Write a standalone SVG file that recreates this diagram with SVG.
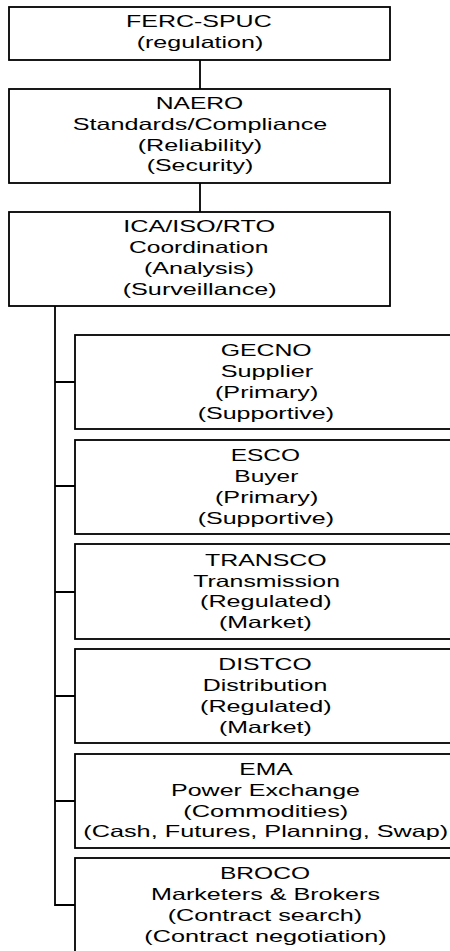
<svg xmlns="http://www.w3.org/2000/svg" width="450" height="951" viewBox="0 0 450 951">
<style>
.box{fill:#fff;stroke:#000;stroke-width:1.8}
.ln{fill:none;stroke:#000;stroke-width:1.8}
text{font-family:"Liberation Sans",Arial,sans-serif;font-size:16.5px;fill:#000}
</style>
<rect width="450" height="951" fill="#fff"/>
<g id="connectors">
<path class="ln" d="M200,60V89M200,183V212M55,306V905H75M55,382H75M55,486H75M55,592H75M55,696H75M55,801H75"/>
</g>
<g id="ferc">
<rect class="box" x="9" y="7" width="381" height="53"/>
<text x="126" y="27.3" textLength="145.7" lengthAdjust="spacingAndGlyphs">FERC-SPUC</text>
<text x="136.7" y="47.7" textLength="126.6" lengthAdjust="spacingAndGlyphs">(regulation)</text>
</g>
<g id="naero">
<rect class="box" x="9" y="89" width="381" height="94"/>
<text x="155.7" y="109.3" textLength="87.6" lengthAdjust="spacingAndGlyphs">NAERO</text>
<text x="72.7" y="130" textLength="254.6" lengthAdjust="spacingAndGlyphs">Standards/Compliance</text>
<text x="137.7" y="150.7" textLength="124.6" lengthAdjust="spacingAndGlyphs">(Reliability)</text>
<text x="146.7" y="171.3" textLength="106.6" lengthAdjust="spacingAndGlyphs">(Security)</text>
</g>
<g id="ica">
<rect class="box" x="9" y="212" width="381" height="94"/>
<text x="123.3" y="232.3" textLength="151.7" lengthAdjust="spacingAndGlyphs">ICA/ISO/RTO</text>
<text x="129" y="253.3" textLength="139.3" lengthAdjust="spacingAndGlyphs">Coordination</text>
<text x="144" y="274" textLength="110" lengthAdjust="spacingAndGlyphs">(Analysis)</text>
<text x="122.7" y="295" textLength="154" lengthAdjust="spacingAndGlyphs">(Surveillance)</text>
</g>
<g id="gecno">
<rect class="box" x="75" y="335" width="382" height="94"/>
<text x="220.7" y="356" textLength="91" lengthAdjust="spacingAndGlyphs">GECNO</text>
<text x="220.7" y="377.3" textLength="92.6" lengthAdjust="spacingAndGlyphs">Supplier</text>
<text x="215" y="398.3" textLength="103.3" lengthAdjust="spacingAndGlyphs">(Primary)</text>
<text x="197.7" y="419.3" textLength="136.3" lengthAdjust="spacingAndGlyphs">(Supportive)</text>
</g>
<g id="esco">
<rect class="box" x="75" y="440" width="382" height="94"/>
<text x="230.7" y="461" textLength="69.3" lengthAdjust="spacingAndGlyphs">ESCO</text>
<text x="234.3" y="482" textLength="64" lengthAdjust="spacingAndGlyphs">Buyer</text>
<text x="215" y="503.3" textLength="103.3" lengthAdjust="spacingAndGlyphs">(Primary)</text>
<text x="197.7" y="524" textLength="136.3" lengthAdjust="spacingAndGlyphs">(Supportive)</text>
</g>
<g id="transco">
<rect class="box" x="75" y="544" width="382" height="95"/>
<text x="205" y="566" textLength="121.7" lengthAdjust="spacingAndGlyphs">TRANSCO</text>
<text x="193.3" y="586.7" textLength="146.7" lengthAdjust="spacingAndGlyphs">Transmission</text>
<text x="200" y="607.3" textLength="131.7" lengthAdjust="spacingAndGlyphs">(Regulated)</text>
<text x="219" y="628.3" textLength="92.7" lengthAdjust="spacingAndGlyphs">(Market)</text>
</g>
<g id="distco">
<rect class="box" x="75" y="649" width="382" height="94"/>
<text x="218.3" y="670" textLength="93.4" lengthAdjust="spacingAndGlyphs">DISTCO</text>
<text x="202.7" y="691.3" textLength="124.6" lengthAdjust="spacingAndGlyphs">Distribution</text>
<text x="200" y="712" textLength="131.7" lengthAdjust="spacingAndGlyphs">(Regulated)</text>
<text x="219" y="732.7" textLength="92.7" lengthAdjust="spacingAndGlyphs">(Market)</text>
</g>
<g id="ema">
<rect class="box" x="75" y="754" width="382" height="94"/>
<text x="239.3" y="775" textLength="53.4" lengthAdjust="spacingAndGlyphs">EMA</text>
<text x="171" y="795.7" textLength="189" lengthAdjust="spacingAndGlyphs">Power Exchange</text>
<text x="183.3" y="816.7" textLength="165" lengthAdjust="spacingAndGlyphs">(Commodities)</text>
<text x="83.3" y="837.3" textLength="365" lengthAdjust="spacingAndGlyphs">(Cash, Futures, Planning, Swap)</text>
</g>
<g id="broco">
<rect class="box" x="75" y="858" width="382" height="110"/>
<text x="220" y="879.3" textLength="90" lengthAdjust="spacingAndGlyphs">BROCO</text>
<text x="151" y="900" textLength="229" lengthAdjust="spacingAndGlyphs">Marketers &amp; Brokers</text>
<text x="167.7" y="921" textLength="194.6" lengthAdjust="spacingAndGlyphs">(Contract search)</text>
<text x="144.3" y="941.7" textLength="242.4" lengthAdjust="spacingAndGlyphs">(Contract negotiation)</text>
</g>
</svg>
